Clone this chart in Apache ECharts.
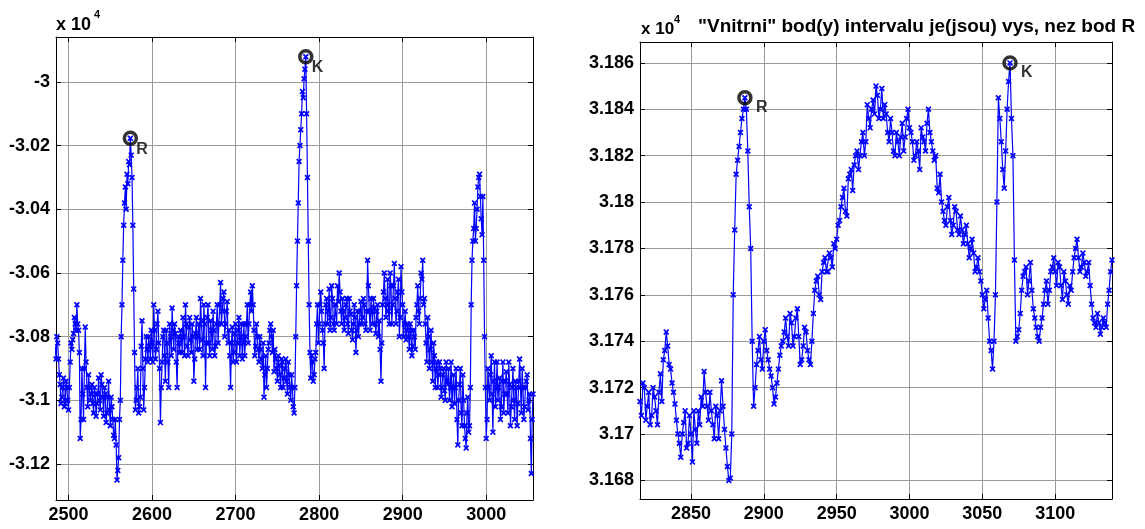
<!DOCTYPE html>
<html><head><meta charset="utf-8">
<script src="https://cdn.jsdelivr.net/npm/echarts@6/dist/echarts.min.js"></script>
<style>html,body{margin:0;padding:0;background:#fff}#c{width:1145px;height:529px}</style>
</head><body><div id="c"></div>
<script>
// ---- data (samples at even x, then odd x in between) ----
const leftPoints = [
[2484,-30830],[2486,-30800],[2488,-30870],[2490,-30950],[2492,-30990],[2494,-30930],[2496,-31010],[2498,-30960],[2500,-31030],[2502,-30880],
[2504,-30840],[2506,-30790],[2508,-30760],[2510,-30700],[2512,-30780],[2514,-31120],[2516,-30900],[2518,-31060],[2520,-30770],[2522,-30960],
[2524,-30920],[2526,-31000],[2528,-30950],[2530,-31040],[2532,-30980],[2534,-31010],[2536,-30930],[2538,-31030],[2540,-30950],[2542,-31050],
[2544,-30980],[2546,-31040],[2548,-30940],[2550,-31080],[2552,-31020],[2554,-31110],[2556,-31060],[2558,-31250],[2560,-31180],[2562,-31000],
[2564,-30700],[2566,-30450],[2568,-30330],[2570,-30290],[2572,-30250],[2574,-30177],[2576,-30300],[2578,-30650],[2580,-31030],[2582,-30960],
[2584,-31040],[2586,-30990],[2588,-30750],[2590,-31030],[2592,-30870],[2594,-30840],[2596,-30800],[2598,-30870],[2600,-30820],[2602,-30700],
[2604,-30870],[2606,-30760],[2608,-30820],[2610,-31070],[2612,-30880],[2614,-30780],[2616,-30940],[2618,-30820],[2620,-30960],[2622,-30800],
[2624,-30710],[2626,-30840],[2628,-30790],[2630,-30960],[2632,-30820],[2634,-30780],[2636,-30850],[2638,-30800],[2640,-30700],[2642,-30830],
[2644,-30770],[2646,-30810],[2648,-30760],[2650,-30940],[2652,-30790],[2654,-30840],[2656,-30760],[2658,-30680],[2660,-30810],[2662,-30700],
[2664,-30960],[2666,-30740],[2668,-30820],[2670,-30750],[2672,-30840],[2674,-30780],[2676,-30830],[2678,-30700],[2680,-30760],[2682,-30630],
[2684,-30720],[2686,-30660],[2688,-30760],[2690,-30690],[2692,-30780],[2694,-30960],[2696,-30770],[2698,-30850],[2700,-30760],[2702,-30820],
[2704,-30740],[2706,-30800],[2708,-30870],[2710,-30760],[2712,-30800],[2714,-30700],[2716,-30760],[2718,-30660],[2720,-30640],[2722,-30780],
[2724,-30830],[2726,-30800],[2728,-30880],[2730,-30840],[2732,-30900],[2734,-30990],[2736,-30860],[2738,-30900],[2740,-30820],[2742,-30760],
[2744,-30850],[2746,-30910],[2748,-30870],[2750,-30940],[2752,-30890],[2754,-30960],[2756,-30880],[2758,-30930],[2760,-30870],[2762,-30980],
[2764,-30920],[2766,-31000],[2768,-30960],[2770,-31040],[2772,-30800],[2774,-30500],[2776,-30250],[2778,-30150],[2780,-30030],[2782,-29990],
[2784,-29921],[2786,-30300],[2788,-30700],[2790,-30930],[2792,-30880],[2794,-30920],[2796,-30850],[2798,-30700],[2800,-30760],[2802,-30660],
[2804,-30780],[2806,-30900],[2808,-30700],[2810,-30760],[2812,-30650],[2814,-30740],[2816,-30680],[2818,-30780],[2820,-30700],[2822,-30640],
[2824,-30600],[2826,-30720],[2828,-30680],[2830,-30780],[2832,-30700],[2834,-30760],[2836,-30680],[2838,-30730],[2840,-30810],[2842,-30700],
[2844,-30850],[2846,-30720],[2848,-30760],[2850,-30690],[2852,-30740],[2854,-30700],[2856,-30780],[2858,-30560],[2860,-30720],[2862,-30680],
[2864,-30760],[2866,-30710],[2868,-30790],[2870,-30700],[2872,-30750],[2874,-30940],[2876,-30700],[2878,-30600],[2880,-30740],[2882,-30620],
[2884,-30760],[2886,-30640],[2888,-30700],[2890,-30570],[2892,-30760],[2894,-30660],[2896,-30800],[2898,-30580],[2900,-30700],[2902,-30760],
[2904,-30810],[2906,-30760],[2908,-30840],[2910,-30780],[2912,-30830],[2914,-30800],[2916,-30740],[2918,-30640],[2920,-30760],[2922,-30600],
[2924,-30560],[2926,-30680],[2928,-30820],[2930,-30740],[2932,-30900],[2934,-30780],[2936,-30940],[2938,-30860],[2940,-30900],[2942,-30960],
[2944,-30880],[2946,-30990],[2948,-30920],[2950,-30970],[2952,-30880],[2954,-30950],[2956,-31000],[2958,-30880],[2960,-30960],[2962,-31010],
[2964,-30900],[2966,-31140],[2968,-30950],[2970,-31040],[2972,-30920],[2974,-31080],[2976,-31150],[2978,-30990],[2980,-31080],[2982,-30700],
[2984,-30500],[2986,-30380],[2988,-30460],[2990,-30330],[2992,-30290],[2994,-30430],[2996,-30360],[2998,-30800],[3000,-31120],[3002,-30900],
[3004,-31000],[3006,-30860],[3008,-31100],[3010,-30880],[3012,-30960],[3014,-31000],[3016,-30930],[3018,-31020],[3020,-30880],[3022,-30980],
[3024,-30910],[3026,-31040],[3028,-30950],[3030,-31020],[3032,-30900],[3034,-31060],[3036,-30960],[3038,-31010],[3040,-30870],[3042,-31040],
[3044,-30960],[3046,-31020],[3048,-30940],[3050,-31030],[3052,-30980],[3054,-31230],[3056,-30980],
[2485,-30870],[2487,-30820],[2489,-30920],[2491,-31010],[2493,-30960],[2495,-31020],[2497,-30940],[2499,-31000],[2501,-30960],[2503,-30820],
[2505,-30810],[2507,-30740],[2509,-30780],[2511,-30760],[2513,-30850],[2515,-31060],[2517,-30980],[2519,-30900],[2521,-30880],[2523,-31020],
[2525,-30960],[2527,-30980],[2529,-31010],[2531,-30960],[2533,-31050],[2535,-30980],[2537,-31000],[2539,-30920],[2541,-30990],[2543,-30960],
[2545,-31070],[2547,-30990],[2549,-31030],[2551,-30990],[2553,-31060],[2555,-31120],[2557,-31140],[2559,-31220],[2561,-31060],[2563,-30800],
[2565,-30560],[2567,-30380],[2569,-30400],[2571,-30320],[2573,-30260],[2575,-30230],[2577,-30450],[2579,-30850],[2581,-31000],[2583,-30900],
[2585,-31020],[2587,-30830],[2589,-30900],[2591,-30960],[2593,-30800],[2595,-30880],[2597,-30830],[2599,-30780],[2601,-30880],[2603,-30780],
[2605,-30840],[2607,-30720],[2609,-30900],[2611,-30960],[2613,-30800],[2615,-30860],[2617,-30780],[2619,-30880],[2621,-30760],[2623,-30860],
[2625,-30780],[2627,-30760],[2629,-30880],[2631,-30800],[2633,-30850],[2635,-30800],[2637,-30740],[2639,-30860],[2641,-30760],[2643,-30860],
[2645,-30740],[2647,-30850],[2649,-30800],[2651,-30870],[2653,-30740],[2655,-30800],[2657,-30840],[2659,-30750],[2661,-30860],[2663,-30760],
[2665,-30820],[2667,-30700],[2669,-30860],[2671,-30780],[2673,-30720],[2675,-30860],[2677,-30760],[2679,-30820],[2681,-30700],[2683,-30760],
[2685,-30680],[2687,-30800],[2689,-30720],[2691,-30820],[2693,-30860],[2695,-30820],[2697,-30880],[2699,-30790],[2701,-30880],[2703,-30780],
[2705,-30860],[2707,-30760],[2709,-30820],[2711,-30860],[2713,-30760],[2715,-30820],[2717,-30700],[2719,-30720],[2721,-30700],[2723,-30860],
[2725,-30760],[2727,-30840],[2729,-30800],[2731,-30870],[2733,-30820],[2735,-30920],[2737,-30960],[2739,-30840],[2741,-30780],[2743,-30800],
[2745,-30780],[2747,-30840],[2749,-30900],[2751,-30860],[2753,-30920],[2755,-30870],[2757,-30960],[2759,-30900],[2761,-30940],[2763,-30880],
[2765,-30960],[2767,-30920],[2769,-31020],[2771,-30960],[2773,-30640],[2775,-30380],[2777,-30200],[2779,-30100],[2781,-30050],[2783,-29960],
[2785,-30100],[2787,-30500],[2789,-30850],[2791,-30860],[2793,-30940],[2795,-30870],[2797,-30760],[2799,-30820],[2801,-30700],[2803,-30720],
[2805,-30820],[2807,-30760],[2809,-30680],[2811,-30720],[2813,-30780],[2815,-30640],[2817,-30760],[2819,-30700],[2821,-30760],[2823,-30690],
[2825,-30660],[2827,-30760],[2829,-30720],[2831,-30740],[2833,-30680],[2835,-30790],[2837,-30720],[2839,-30780],[2841,-30760],[2843,-30740],
[2845,-30780],[2847,-30800],[2849,-30720],[2851,-30760],[2853,-30680],[2855,-30760],[2857,-30720],[2859,-30640],[2861,-30780],[2863,-30720],
[2865,-30680],[2867,-30760],[2869,-30720],[2871,-30800],[2873,-30840],[2875,-30820],[2877,-30660],[2879,-30680],[2881,-30700],[2883,-30720],
[2885,-30600],[2887,-30760],[2889,-30640],[2891,-30680],[2893,-30720],[2895,-30620],[2897,-30740],[2899,-30660],[2901,-30800],[2903,-30720],
[2905,-30780],[2907,-30800],[2909,-30760],[2911,-30860],[2913,-30780],[2915,-30840],[2917,-30700],[2919,-30720],[2921,-30680],[2923,-30620],
[2925,-30700],[2927,-30760],[2929,-30880],[2931,-30800],[2933,-30840],[2935,-30880],[2937,-30820],[2939,-30960],[2941,-30880],[2943,-30920],
[2945,-30900],[2947,-30960],[2949,-30900],[2951,-31000],[2953,-30940],[2955,-30900],[2957,-30960],[2959,-31020],[2961,-30920],[2963,-30960],
[2965,-31060],[2967,-31000],[2969,-30900],[2971,-31080],[2973,-31000],[2975,-31120],[2977,-31040],[2979,-31100],[2981,-30960],[2983,-30560],
[2985,-30460],[2987,-30500],[2989,-30400],[2991,-30300],[2993,-30360],[2995,-30480],[2997,-30560],[2999,-30960],[3001,-31060],[3003,-30960],
[3005,-30920],[3007,-30980],[3009,-30940],[3011,-31020],[3013,-30880],[3015,-30960],[3017,-31060],[3019,-30940],[3021,-31040],[3023,-30940],
[3025,-30980],[3027,-30880],[3029,-31080],[3031,-30960],[3033,-31000],[3035,-30940],[3037,-31080],[3039,-30940],[3041,-30960],[3043,-30900],
[3045,-31060],[3047,-30960],[3049,-30920],[3051,-31000],[3053,-31120],[3055,-31060]
];
const rightPoints = [
[2815,31714],[2817,31722],[2819,31706],[2821,31718],[2823,31708],[2825,31716],[2827,31704],[2829,31726],[2831,31732],[2833,31744],
[2835,31730],[2837,31722],[2839,31713],[2841,31700],[2843,31690],[2845,31705],[2847,31694],[2849,31708],[2851,31688],[2853,31702],
[2855,31710],[2857,31716],[2859,31727],[2861,31712],[2863,31718],[2865,31704],[2867,31712],[2869,31698],[2871,31723],[2873,31702],
[2875,31686],[2877,31681],[2879,31760],[2881,31812],[2883,31824],[2885,31836],[2887,31845],[2889,31822],[2891,31780],[2893,31712],
[2895,31730],[2897,31742],[2899,31728],[2901,31745],[2903,31732],[2905,31725],[2907,31713],[2909,31722],[2911,31734],[2913,31740],
[2915,31750],[2917,31738],[2919,31748],[2921,31742],[2923,31754],[2925,31730],[2927,31738],[2929,31744],[2931,31732],[2933,31740],
[2935,31762],[2937,31768],[2939,31758],[2941,31774],[2943,31770],[2945,31778],[2947,31772],[2949,31780],[2951,31790],[2953,31798],
[2955,31806],[2957,31794],[2959,31812],[2961,31805],[2963,31820],[2965,31814],[2967,31826],[2969,31820],[2971,31842],[2973,31832],
[2975,31844],[2977,31850],[2979,31836],[2981,31849],[2983,31842],[2985,31830],[2987,31836],[2989,31822],[2991,31830],[2993,31820],
[2995,31834],[2997,31828],[2999,31840],[3001,31830],[3003,31818],[3005,31826],[3007,31814],[3009,31828],[3011,31822],[3013,31840],
[3015,31826],[3017,31818],[3019,31806],[3021,31812],[3023,31796],[3025,31790],[3027,31802],[3029,31786],[3031,31798],[3033,31788],
[3035,31794],[3037,31782],[3039,31790],[3041,31776],[3043,31784],[3045,31770],[3047,31776],[3049,31766],[3051,31754],[3053,31762],
[3055,31740],[3057,31728],[3059,31760],[3061,31845],[3063,31826],[3065,31806],[3067,31840],[3069,31860],[3071,31820],[3073,31740],
[3075,31745],[3077,31762],[3079,31770],[3081,31760],[3083,31774],[3085,31754],[3087,31746],[3089,31740],[3091,31750],[3093,31762],
[3095,31756],[3097,31770],[3099,31776],[3101,31764],[3103,31772],[3105,31758],[3107,31766],[3109,31756],[3111,31762],[3113,31776],
[3115,31784],[3117,31770],[3119,31778],[3121,31768],[3123,31774],[3125,31756],[3127,31748],[3129,31752],[3131,31743],[3133,31750],
[3135,31746],[3137,31762],[3139,31775],
[2816,31708],[2818,31720],[2820,31712],[2822,31704],[2824,31720],[2826,31710],[2828,31718],[2830,31714],[2832,31736],[2834,31738],
[2836,31728],[2838,31718],[2840,31706],[2842,31696],[2844,31700],[2846,31710],[2848,31696],[2850,31700],[2852,31710],[2854,31696],
[2856,31704],[2858,31712],[2860,31718],[2862,31706],[2864,31710],[2866,31698],[2868,31708],[2870,31710],[2872,31712],[2874,31694],
[2876,31680],[2878,31700],[2880,31788],[2882,31818],[2884,31830],[2886,31840],[2888,31840],[2890,31798],[2892,31740],[2894,31720],
[2896,31736],[2898,31732],[2900,31740],[2902,31736],[2904,31728],[2906,31720],[2908,31716],[2910,31728],[2912,31738],[2914,31744],
[2916,31742],[2918,31752],[2920,31738],[2922,31750],[2924,31742],[2926,31732],[2928,31746],[2930,31736],[2932,31730],[2934,31752],
[2936,31766],[2938,31760],[2940,31770],[2942,31776],[2944,31770],[2946,31776],[2948,31782],[2950,31784],[2952,31792],[2954,31802],
[2956,31796],[2958,31810],[2960,31814],[2962,31816],[2964,31822],[2966,31820],[2968,31830],[2970,31826],[2972,31836],[2974,31840],
[2976,31838],[2978,31846],[2980,31840],[2982,31836],[2984,31838],[2986,31826],[2988,31830],[2990,31820],[2992,31826],[2994,31828],
[2996,31822],[2998,31836],[3000,31832],[3002,31826],[3004,31820],[3006,31822],[3008,31832],[3010,31826],[3012,31834],[3014,31830],
[3016,31822],[3018,31820],[3020,31804],[3022,31800],[3024,31792],[3026,31798],[3028,31792],[3030,31790],[3032,31796],[3034,31786],
[3036,31788],[3038,31786],[3040,31782],[3042,31780],[3044,31778],[3046,31772],[3048,31770],[3050,31760],[3052,31758],[3054,31750],
[3056,31736],[3058,31740],[3060,31800],[3062,31836],[3064,31814],[3066,31822],[3068,31852],[3070,31836],[3072,31775],[3074,31742],
[3076,31752],[3078,31768],[3080,31772],[3082,31766],[3084,31762],[3086,31750],[3088,31742],[3090,31746],[3092,31756],[3094,31766],
[3096,31762],[3098,31772],[3100,31770],[3102,31774],[3104,31764],[3106,31770],[3108,31760],[3110,31764],[3112,31770],[3114,31780],
[3116,31776],[3118,31772],[3120,31774],[3122,31770],[3124,31764],[3126,31750],[3128,31746],[3130,31748],[3132,31746],[3134,31748],
[3136,31756],[3138,31770]
];
const leftMarks = [{name:'R', value:[2574,-30177]}, {name:'K', value:[2784,-29921]}];
const rightMarks = [{name:'R', value:[2887,31845]}, {name:'K', value:[3069,31860]}];
const leftXTicks = [2500,2600,2700,2800,2900,3000];
const leftYTicks = [-31200,-31000,-30800,-30600,-30400,-30200,-30000];
const rightXTicks = [2850,2900,2950,3000,3050,3100];
const rightYTicks = [31680,31700,31720,31740,31760,31780,31800,31820,31840,31860];
const titleText = '"Vnitrni" bod(y) intervalu je(jsou) vys, nez bod R';

// ---- chart ----
const FONT = '"Liberation Sans", Arial, sans-serif';
const XSYM = 'path://M0,2L2,0L5,3L8,0L10,2L7,5L10,8L8,10L5,7L2,10L0,8L3,5Z';
const fmt = v => String(parseFloat((v / 10000).toFixed(4)));
const byX = (a, b) => a[0] - b[0];
const gridLine = {show:true, lineStyle:{color:'#9a9a9a', width:1}};
function mkAxes(gi, min, max, ticks, isX) {
  const main = {
    type:'value', gridIndex:gi, min:min, max:max,
    position: isX ? 'bottom' : 'left',
    axisLine:{show:true, onZero:false, lineStyle:{color:'#000', width:1}},
    axisTick:{show:true, inside:true, length:5, customValues:ticks, lineStyle:{color:'#000'}},
    axisLabel:{show:true, customValues:ticks, formatter: isX ? (v => String(v)) : fmt,
      color:'#000', fontFamily:FONT, fontWeight:'bold', fontSize:18, margin:6},
    splitLine:gridLine
  };
  const opp = {
    type:'value', gridIndex:gi, min:min, max:max,
    position: isX ? 'top' : 'right',
    axisLine:{show:true, onZero:false, lineStyle:{color:'#000', width:1}},
    axisTick:{show:true, inside:true, length:5, customValues:ticks, lineStyle:{color:'#000'}},
    axisLabel:{show:false},
    splitLine:{show:false}
  };
  return [main, opp];
}
const lx = mkAxes(0, 2485, 3056, leftXTicks, true);
const ly = mkAxes(0, -31313, -29859, leftYTicks, false);
const rx = mkAxes(1, 2815, 3139, rightXTicks, true);
const ry = mkAxes(1, 31672, 31869, rightYTicks, false);

function lineSeries(xi, yi, data) {
  return {type:'line', xAxisIndex:xi, yAxisIndex:yi, data:data.slice().sort(byX), symbol:XSYM, symbolSize:6,
    showAllSymbol:true, itemStyle:{color:'#0000ff'}, lineStyle:{color:'#0000ff', width:1.2},
    animation:false, z:3};
}
function markSeries(xi, yi, data, off) {
  return {type:'scatter', xAxisIndex:xi, yAxisIndex:yi, data:data, symbol:'circle', symbolSize:12,
    itemStyle:{color:'rgba(0,0,0,0)', borderColor:'#000', borderWidth:3.5}, z:5, animation:false,
    label:{show:true, formatter:p => p.name, position:'inside', offset:off, align:'left', verticalAlign:'top',
      color:'#000', fontFamily:FONT, fontWeight:'bold', fontSize:16}};
}
function txt(left, top, text, size) {
  return {type:'text', left:left, top:top, style:{text:text, fill:'#000', fontFamily:FONT, fontWeight:'bold', fontSize:size}};
}

const chart = echarts.init(document.getElementById('c'), null, {renderer:'canvas'});
chart.setOption({
  backgroundColor:'#fff',
  animation:false,
  grid:[
    {left:56, top:37, width:477, height:463, containLabel:false},
    {left:640, top:42, width:472, height:457, containLabel:false}
  ],
  xAxis:[lx[0], lx[1], rx[0], rx[1]],
  yAxis:[ly[0], ly[1], ry[0], ry[1]],
  series:[
    lineSeries(0, 0, leftPoints),
    lineSeries(2, 2, rightPoints),
    markSeries(0, 0, leftMarks, [6, 3]),
    markSeries(2, 2, rightMarks, [11, 2])
  ],
  graphic:[
    txt(56, 16, 'x 10', 18),
    txt(94, 9, '4', 11),
    txt(641, 21, 'x 10', 17),
    txt(674, 14, '4', 11),
    txt(698, 17, titleText, 19)
  ]
});
</script>
</body></html>
